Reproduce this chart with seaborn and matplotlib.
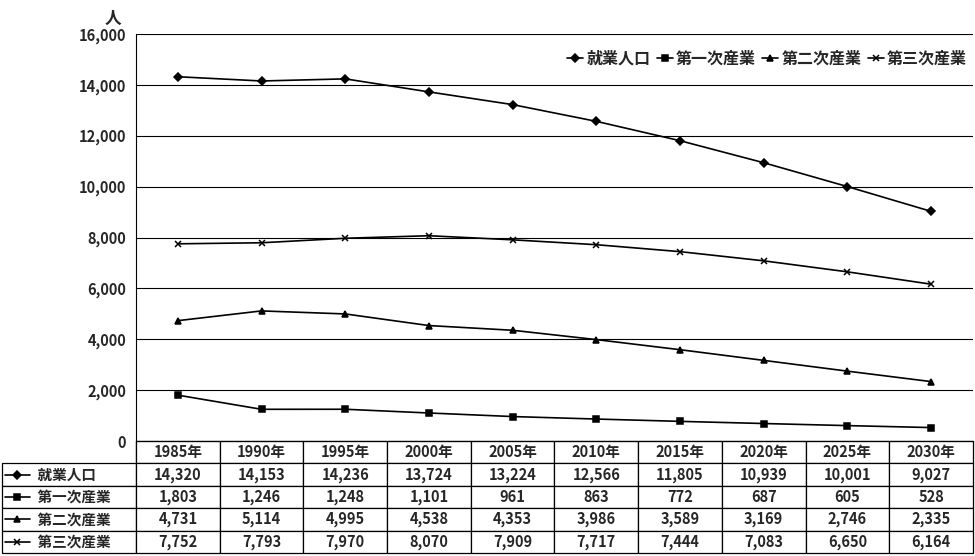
import matplotlib
matplotlib.use("Agg")
import matplotlib.pyplot as plt
import seaborn as sns
import numpy as np
from matplotlib.ticker import FuncFormatter

sns.set_style("white")
plt.rcParams['font.family'] = ['Noto Sans CJK JP', 'DejaVu Sans']
plt.rcParams['font.weight'] = 'bold'

years = ["1985年", "1990年", "1995年", "2000年", "2005年", "2010年", "2015年", "2020年", "2025年", "2030年"]
series_names = ["就業人口", "第一次産業", "第二次産業", "第三次産業"]
total = [14320, 14153, 14236, 13724, 13224, 12566, 11805, 10939, 10001, 9027]
primary = [1803, 1246, 1248, 1101, 961, 863, 772, 687, 605, 528]
secondary = [4731, 5114, 4995, 4538, 4353, 3986, 3589, 3169, 2746, 2335]
tertiary = [7752, 7793, 7970, 8070, 7909, 7717, 7444, 7083, 6650, 6164]
all_values = [total, primary, secondary, tertiary]
markers = ["D", "s", "^", "x"]
msizes = [4, 4.5, 5, 5]

fig = plt.figure(figsize=(9.75, 5.56), dpi=100)
ax = fig.add_axes([136 / 975, 1 - 441 / 556, 837 / 975, 407 / 556])

x = np.arange(len(years))
for name, vals, m, ms in zip(series_names, all_values, markers, msizes):
    sns.lineplot(x=x, y=vals, ax=ax, color="black", linewidth=1.2, marker=m,
                 markersize=ms, markeredgecolor="black", markeredgewidth=1.1, label=name)

ax.set_xlim(-0.5, len(years) - 0.5)
ax.set_ylim(0, 16000)
ax.set_yticks(range(0, 16001, 2000))
ax.yaxis.set_major_formatter(FuncFormatter(lambda v, p: f"{int(v):,}"))
ax.tick_params(axis="y", labelsize=10.5, length=0, pad=7)
ax.set_xticks([])
ax.grid(axis="y", color="black", linewidth=0.8)
for s in ["top", "right"]:
    ax.spines[s].set_visible(False)
ax.spines["left"].set_color("black")
ax.spines["bottom"].set_color("black")
ax.text(-0.028, 1.015, "人", transform=ax.transAxes, ha="center", va="bottom", fontsize=12)

ax.legend(loc="upper right", ncol=4, frameon=False, fontsize=11.5, handlelength=1.0,
          handletextpad=0.2, columnspacing=0.4, bbox_to_anchor=(1.01, 0.995))

# data table under the chart
lab_w = 134 / 837
tab_h = 112 / 407
cell_text = [[""] + years]
for name, vals in zip(series_names, all_values):
    cell_text.append(["　　 " + name] + [f"{v:,}" for v in vals])
col_w = [134] + [83.7] * len(years)
tbl = ax.table(cellText=cell_text, colWidths=col_w, bbox=[-lab_w, -tab_h, 1 + lab_w, tab_h],
               cellLoc="center")
tbl.auto_set_font_size(False)
tbl.set_fontsize(10.5)
for (r, c), cell in tbl.get_celld().items():
    cell.set_linewidth(0.9)
    cell.set_edgecolor("black")
    if c == 0:
        cell.get_text().set_ha("left")
        cell._loc = "left"
        cell.PAD = 0.02
    if r == 0 and c == 0:
        cell.visible_edges = "R"

# marker keys in the row labels
rh = tab_h / 5
for i, (m, ms) in enumerate(zip(markers, msizes)):
    yc = -rh * (i + 1.5)
    ax.plot([-0.157, -0.127], [yc, yc], transform=ax.transAxes, clip_on=False,
            color="black", linewidth=1.2)
    ax.plot([-0.142], [yc], transform=ax.transAxes, clip_on=False, color="black",
            marker=m, markersize=ms, markeredgewidth=1.1)

fig.savefig("out.png", dpi=100)
